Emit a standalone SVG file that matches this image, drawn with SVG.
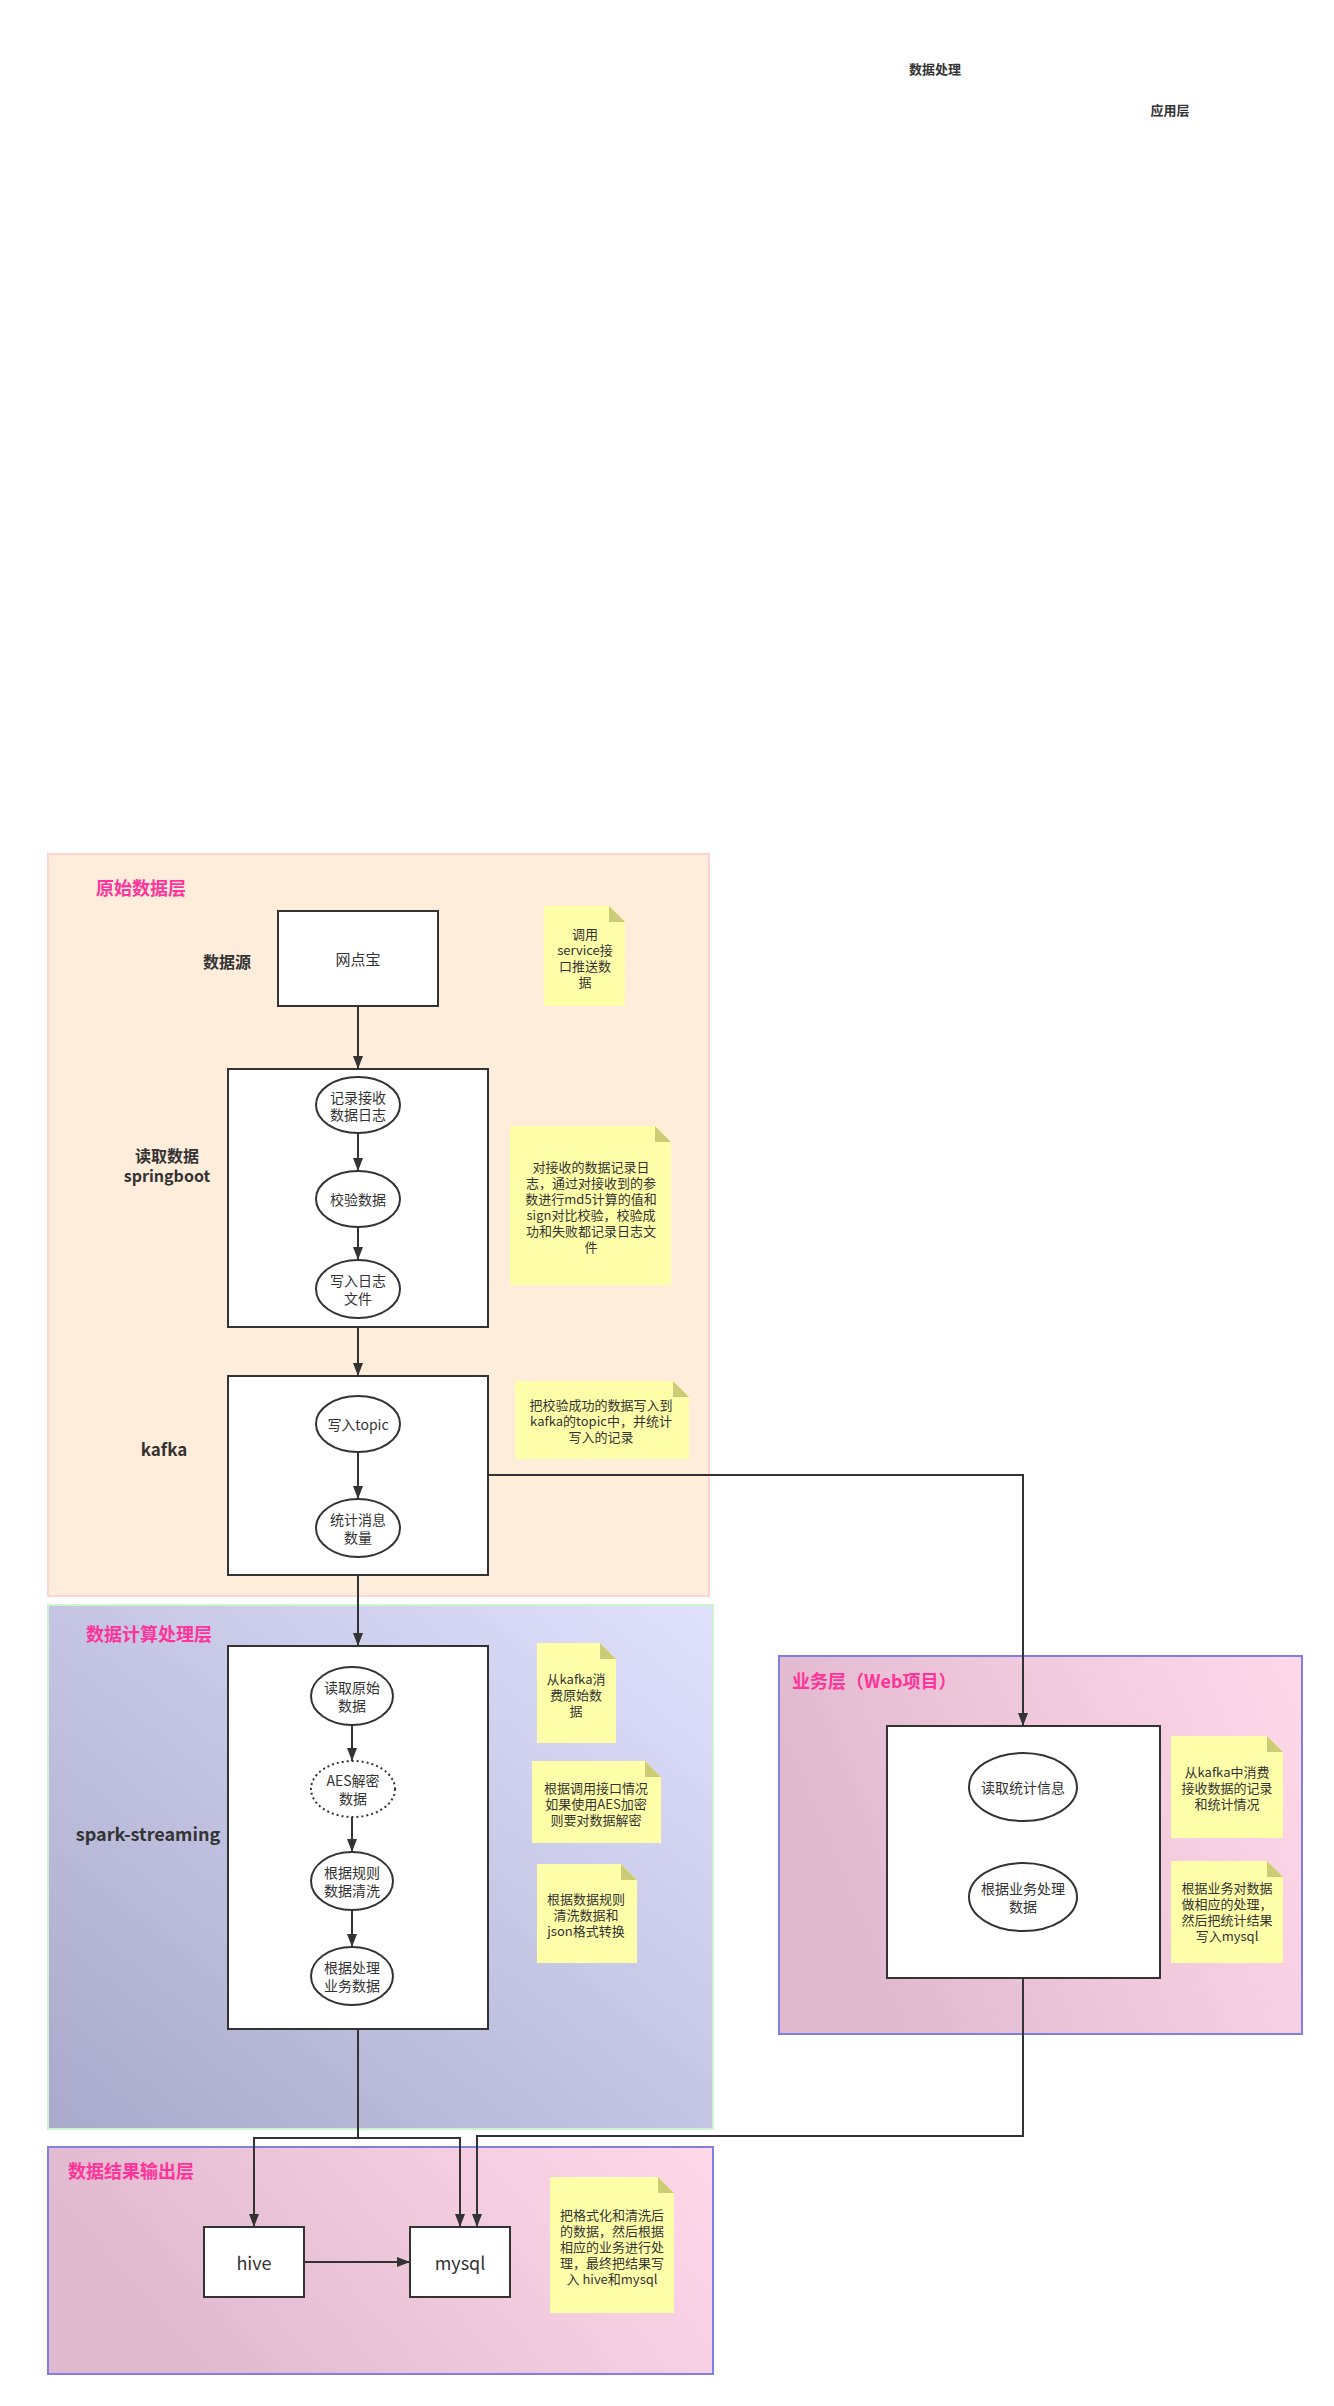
<svg xmlns="http://www.w3.org/2000/svg" width="1334" height="2406" viewBox="0 0 1334 2406">
<style>
text{font-family:"Noto Sans CJK SC","Noto Sans",sans-serif;fill:#333;dominant-baseline:central;text-anchor:middle}
.lbl{font-size:16px;font-weight:bold}
.ttl{font-size:18px;font-weight:bold;fill:#FF3399;text-anchor:start}
.hdr{font-size:13px;font-weight:bold}
.box{fill:#fff;stroke:#333;stroke-width:2}
.ell{fill:#fff;stroke:#333;stroke-width:2}
.dot{fill:#fff;stroke:#333;stroke-width:2;stroke-dasharray:2 3}
.t14{font-size:14px}
.t13{font-size:13px}
.t18{font-size:18px}
.note{fill:#FFFFAA}
.fold{fill:#CCCC77}
.con{fill:none;stroke:#333;stroke-width:2}
.arr{marker-end:url(#ah)}
</style>
<defs>
<marker id="ah" markerUnits="userSpaceOnUse" markerWidth="14" markerHeight="10" refX="13" refY="5" orient="auto">
<path d="M0,0 L13,5 L0,10 z" fill="#333"/>
</marker>
<linearGradient id="gBlue" x1="0" y1="1" x2="1" y2="0">
<stop offset="0" stop-color="#A9AACB"/>
<stop offset="1" stop-color="#E0E1FD"/>
</linearGradient>
<linearGradient id="gPink" x1="0" y1="0.3" x2="1" y2="0">
<stop offset="0" stop-color="#E1B9CF"/>
<stop offset="1" stop-color="#FFD9EA"/>
</linearGradient>
</defs>

<g id="headers">
<text class="hdr" x="935" y="68">数据处理</text>
<text class="hdr" x="1170" y="109">应用层</text>
</g>

<g id="layer-raw">
<rect x="48" y="854" width="661" height="742" fill="#FFEDDC" stroke="#FFD3D3" stroke-width="2"/>
<text class="ttl" x="96" y="887">原始数据层</text>
</g>
<g id="layer-compute">
<rect x="48" y="1605" width="665" height="524" fill="url(#gBlue)" stroke="#CCF5CC" stroke-width="2"/>
<text class="ttl" x="86" y="1633">数据计算处理层</text>
</g>
<g id="layer-web">
<rect x="779" y="1656" width="523" height="378" fill="url(#gPink)" stroke="#7F7FE6" stroke-width="2"/>
<text class="ttl" x="792" y="1680">业务层（Web项目）</text>
</g>
<g id="layer-output">
<rect x="48" y="2147" width="665" height="227" fill="url(#gPink)" stroke="#7F7FE6" stroke-width="2"/>
<text class="ttl" x="68" y="2170">数据结果输出层</text>
</g>

<g id="labels">
<text class="lbl" x="227" y="961">数据源</text>
<text class="lbl" x="167" y="1155">读取数据</text>
<text class="lbl" x="167" y="1175">springboot</text>
<text class="lbl" x="164" y="1448" style="font-size:17px">kafka</text>
<text class="lbl" x="148" y="1833" style="font-size:18px">spark-streaming</text>
</g>

<g id="n-wdb">
<rect class="box" x="278" y="911" width="160" height="95"/>
<text class="t14" x="358" y="958" style="font-size:15px">网点宝</text>
</g>
<g id="n-springboot">
<rect class="box" x="228" y="1069" width="260" height="258"/>
</g>
<g id="n-log">
<ellipse class="ell" cx="358" cy="1105" rx="42" ry="28"/>
<text class="t14" x="358" y="1097">记录接收</text>
<text class="t14" x="358" y="1114">数据日志</text>
</g>
<g id="n-check">
<ellipse class="ell" cx="358" cy="1199" rx="42" ry="28"/>
<text class="t14" x="358" y="1199">校验数据</text>
</g>
<g id="n-writelog">
<ellipse class="ell" cx="358" cy="1289" rx="42" ry="29"/>
<text class="t14" x="358" y="1280">写入日志</text>
<text class="t14" x="358" y="1298">文件</text>
</g>
<g id="n-kafka">
<rect class="box" x="228" y="1376" width="260" height="199"/>
</g>
<g id="n-topic">
<ellipse class="ell" cx="358" cy="1424" rx="42" ry="28"/>
<text class="t14" x="358" y="1424">写入topic</text>
</g>
<g id="n-count">
<ellipse class="ell" cx="358" cy="1528" rx="42" ry="29"/>
<text class="t14" x="358" y="1519">统计消息</text>
<text class="t14" x="358" y="1537">数量</text>
</g>
<g id="n-spark">
<rect class="box" x="228" y="1646" width="260" height="383"/>
</g>
<g id="n-read">
<ellipse class="ell" cx="352" cy="1696" rx="41" ry="29"/>
<text class="t14" x="352" y="1687">读取原始</text>
<text class="t14" x="352" y="1705">数据</text>
</g>
<g id="n-aes">
<ellipse class="dot" cx="353" cy="1789" rx="42" ry="28"/>
<text class="t14" x="353" y="1780">AES解密</text>
<text class="t14" x="353" y="1798">数据</text>
</g>
<g id="n-clean">
<ellipse class="ell" cx="352" cy="1881" rx="41" ry="29"/>
<text class="t14" x="352" y="1872">根据规则</text>
<text class="t14" x="352" y="1890">数据清洗</text>
</g>
<g id="n-biz">
<ellipse class="ell" cx="352" cy="1976" rx="41" ry="29"/>
<text class="t14" x="352" y="1967">根据处理</text>
<text class="t14" x="352" y="1985">业务数据</text>
</g>
<g id="n-web">
<rect class="box" x="887" y="1726" width="273" height="252"/>
</g>
<g id="n-stat">
<ellipse class="ell" cx="1023" cy="1787" rx="54" ry="34"/>
<text class="t14" x="1023" y="1787">读取统计信息</text>
</g>
<g id="n-bizproc">
<ellipse class="ell" cx="1023" cy="1897" rx="54" ry="34"/>
<text class="t14" x="1023" y="1888">根据业务处理</text>
<text class="t14" x="1023" y="1906">数据</text>
</g>
<g id="n-hive">
<rect class="box" x="204" y="2227" width="100" height="70"/>
<text class="t18" x="254" y="2262">hive</text>
</g>
<g id="n-mysql">
<rect class="box" x="410" y="2227" width="100" height="70"/>
<text class="t18" x="460" y="2262">mysql</text>
</g>

<g id="notes">
<g id="note1">
<path class="note" d="M544,906 H609 L625,922 V1006 H544 z"/><path class="fold" d="M609,906 L625,922 H609 z"/>
<text class="t13" x="585" y="933">调用</text>
<text class="t13" x="585" y="949">service接</text>
<text class="t13" x="585" y="965">口推送数</text>
<text class="t13" x="585" y="981">据</text>
</g>
<g id="note2">
<path class="note" d="M510,1126 H655 L671,1142 V1285 H510 z"/><path class="fold" d="M655,1126 L671,1142 H655 z"/>
<text class="t13" x="591" y="1166">对接收的数据记录日</text>
<text class="t13" x="591" y="1182">志，通过对接收到的参</text>
<text class="t13" x="591" y="1198">数进行md5计算的值和</text>
<text class="t13" x="591" y="1214">sign对比校验，校验成</text>
<text class="t13" x="591" y="1230">功和失败都记录日志文</text>
<text class="t13" x="591" y="1246">件</text>
</g>
<g id="note3">
<path class="note" d="M515,1381 H673 L689,1397 V1459 H515 z"/><path class="fold" d="M673,1381 L689,1397 H673 z"/>
<text class="t13" x="601" y="1404">把校验成功的数据写入到</text>
<text class="t13" x="601" y="1420">kafka的topic中，并统计</text>
<text class="t13" x="601" y="1436">写入的记录</text>
</g>
<g id="note4">
<path class="note" d="M537,1643 H600 L616,1659 V1743 H537 z"/><path class="fold" d="M600,1643 L616,1659 H600 z"/>
<text class="t13" x="576" y="1678">从kafka消</text>
<text class="t13" x="576" y="1694">费原始数</text>
<text class="t13" x="576" y="1710">据</text>
</g>
<g id="note5">
<path class="note" d="M532,1761 H645 L661,1777 V1843 H532 z"/><path class="fold" d="M645,1761 L661,1777 H645 z"/>
<text class="t13" x="596" y="1787">根据调用接口情况</text>
<text class="t13" x="596" y="1803">如果使用AES加密</text>
<text class="t13" x="596" y="1819">则要对数据解密</text>
</g>
<g id="note6">
<path class="note" d="M537,1864 H621 L637,1880 V1963 H537 z"/><path class="fold" d="M621,1864 L637,1880 H621 z"/>
<text class="t13" x="586" y="1898">根据数据规则</text>
<text class="t13" x="586" y="1914">清洗数据和</text>
<text class="t13" x="586" y="1930">json格式转换</text>
</g>
<g id="note7">
<path class="note" d="M550,2177 H658 L674,2193 V2313 H550 z"/><path class="fold" d="M658,2177 L674,2193 H658 z"/>
<text class="t13" x="612" y="2214">把格式化和清洗后</text>
<text class="t13" x="612" y="2230">的数据，然后根据</text>
<text class="t13" x="612" y="2246">相应的业务进行处</text>
<text class="t13" x="612" y="2262">理，最终把结果写</text>
<text class="t13" x="612" y="2278">入 hive和mysql</text>
</g>
<g id="note8">
<path class="note" d="M1171,1736 H1267 L1283,1752 V1838 H1171 z"/><path class="fold" d="M1267,1736 L1283,1752 H1267 z"/>
<text class="t13" x="1227" y="1771">从kafka中消费</text>
<text class="t13" x="1227" y="1787">接收数据的记录</text>
<text class="t13" x="1227" y="1803">和统计情况</text>
</g>
<g id="note9">
<path class="note" d="M1171,1861 H1267 L1283,1877 V1963 H1171 z"/><path class="fold" d="M1267,1861 L1283,1877 H1267 z"/>
<text class="t13" x="1227" y="1887">根据业务对数据</text>
<text class="t13" x="1227" y="1903">做相应的处理，</text>
<text class="t13" x="1227" y="1919">然后把统计结果</text>
<text class="t13" x="1227" y="1935">写入mysql</text>
</g>
</g>

<g id="connectors">
<path class="con arr" d="M358,1006 V1069"/>
<path class="con arr" d="M358,1133 V1171"/>
<path class="con arr" d="M358,1227 V1260"/>
<path class="con arr" d="M358,1327 V1376"/>
<path class="con arr" d="M358,1452 V1499"/>
<path class="con arr" d="M358,1575 V1646"/>
<path class="con arr" d="M352,1725 V1761"/>
<path class="con arr" d="M352,1817 V1852"/>
<path class="con arr" d="M352,1910 V1947"/>
<path class="con arr" d="M488,1475 H1023 V1726"/>
<path class="con arr" d="M358,2029 V2138 H254 V2227"/>
<path class="con arr" d="M358,2138 H460 V2227"/>
<path class="con arr" d="M1023,1978 V2136 H477 V2227"/>
<path class="con arr" d="M304,2262 H410"/>
</g>
</svg>
